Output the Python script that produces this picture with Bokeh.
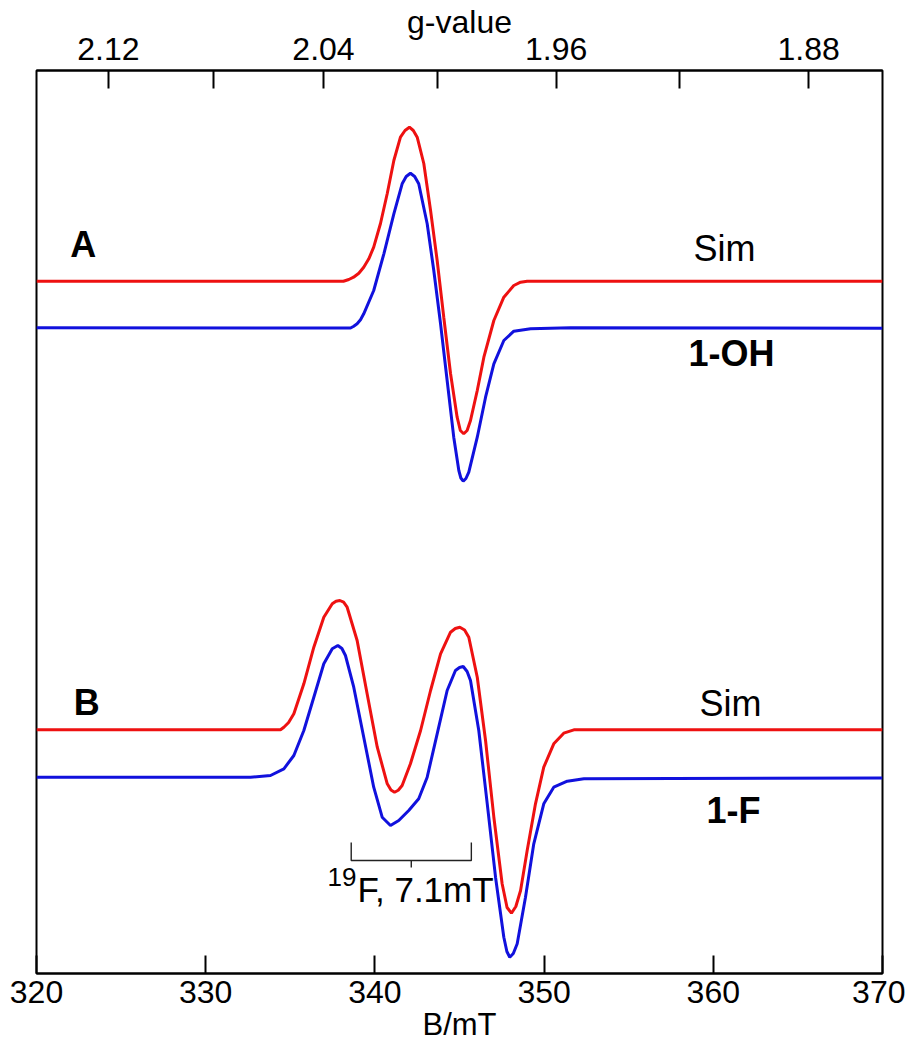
from bokeh.plotting import figure
from bokeh.models import Range1d, LinearAxis, FixedTicker, CustomJSTickFormatter
from bokeh.embed import file_html
from bokeh.resources import INLINE
from bokeh.core.properties import value

FONT = "Liberation Sans"

# ---- data ----
G_TIMES_B = 687.4          # g * B(mT) for this microwave frequency
g_major = [2.12, 2.04, 1.96, 1.88]
g_minor = [2.08, 2.00, 1.92]
b_ticks = [320, 330, 340, 350, 360, 370]

# spectrum A, simulation (red)
simA_B = [320.0, 338.14, 338.46, 338.74, 339.05, 339.34, 339.64, 339.93, 340.33, 340.73,
          341.12, 341.51, 341.78, 342.04, 342.27, 342.50, 342.89, 343.29, 343.68, 344.07,
          344.47, 344.86, 345.05, 345.25, 345.45, 345.65, 346.05, 346.44, 347.03, 347.62,
          348.21, 348.61, 349.00, 370.0]
simA_y = [692.3, 692.3, 694.0, 696.3, 700.3, 706.3, 714.7, 726.3, 750.0, 780.0,
          813.0, 836.3, 843.0, 846.3, 843.0, 836.3, 810.0, 763.0, 713.0, 656.3,
          600.0, 556.3, 543.0, 539.7, 543.0, 553.0, 583.0, 616.3, 653.0, 676.3,
          688.0, 691.3, 692.3, 692.3]

# spectrum A, experiment 1-OH (blue)
expA_B = [320.0, 338.56, 338.75, 338.95, 339.15, 339.34, 339.93, 340.53, 341.12, 341.61,
          341.85, 342.10, 342.35, 342.59, 343.09, 343.48, 343.88, 344.27, 344.66, 344.96,
          345.08, 345.22, 345.38, 345.55, 346.05, 346.54, 347.03, 347.62, 348.21, 349.20,
          351.56, 370.0]
expA_y = [645.7, 645.5, 647.3, 649.7, 653.7, 659.7, 683.0, 719.7, 759.7, 789.7,
          797.0, 800.3, 797.0, 789.7, 749.7, 703.0, 649.7, 593.0, 536.3, 503.0,
          495.5, 492.3, 495.0, 501.3, 536.3, 576.3, 609.7, 633.0, 642.3, 644.7,
          645.7, 645.2]

# spectrum B, simulation (red)
simB_B = [320.0, 334.42, 334.62, 334.90, 335.21, 335.80, 336.39, 336.98, 337.48, 337.70,
          337.93, 338.15, 338.36, 338.95, 339.54, 340.14, 340.73, 340.95, 341.16, 341.38,
          341.61, 342.10, 342.70, 343.29, 343.88, 344.47, 344.75, 345.02, 345.30, 345.55,
          346.05, 346.54, 347.03, 347.52, 347.81, 348.07, 348.33, 348.61, 349.00, 349.49,
          349.98, 350.57, 351.16, 351.76, 370.0]
simB_y = [243.7, 243.7, 246.3, 251.0, 259.7, 289.7, 326.3, 356.3, 369.7, 372.3,
          373.0, 371.3, 366.3, 333.0, 279.7, 226.3, 189.7, 183.5, 181.3, 183.3,
          188.0, 209.7, 243.0, 283.0, 319.7, 341.3, 345.0, 346.3, 343.5, 336.3,
          296.3, 233.0, 156.3, 89.7, 66.0, 60.3, 67.0, 83.0, 123.0, 169.7,
          206.3, 229.7, 240.3, 243.7, 243.7]

# spectrum B, experiment 1-F (blue)
expB_B = [320.0, 332.65, 333.83, 334.62, 335.21, 335.80, 336.39, 336.98, 337.48, 337.81,
          338.05, 338.26, 338.75, 339.34, 339.93, 340.43, 340.92, 341.41, 342.00, 342.59,
          343.09, 343.68, 344.27, 344.76, 345.00, 345.22, 345.45, 345.65, 346.14, 346.64,
          347.13, 347.62, 347.80, 347.97, 348.18, 348.41, 348.90, 349.39, 349.98, 350.57,
          351.37, 352.35, 370.0]
expB_y = [196.3, 196.3, 198.0, 204.7, 218.0, 243.0, 276.3, 309.7, 324.7, 328.0,
          325.0, 318.0, 286.3, 236.3, 186.3, 156.3, 148.0, 153.0, 163.0, 174.7,
          196.3, 239.7, 283.0, 303.0, 306.0, 307.0, 302.0, 293.0, 243.0, 169.7,
          96.3, 36.3, 22.0, 16.3, 20.0, 29.7, 76.3, 129.7, 169.7, 186.3,
          192.3, 194.7, 195.5]

# 19F hyperfine splitting bracket (mT)
hf_start = 338.6
hf_split = 7.1

RED = "#ee1111"
BLUE = "#1111dd"

p = figure(width=905, height=1048, x_range=Range1d(320, 370), y_range=Range1d(0, 903),
           output_backend="svg", toolbar_location=None, y_axis_location=None,
           x_axis_label="B/mT",
           min_border_left=36, min_border_right=23, min_border_top=70, min_border_bottom=75)
p.grid.visible = False
p.outline_line_color = "black"
p.outline_line_width = 2
p.background_fill_color = "white"
p.border_fill_color = "white"

# bottom axis
ax = p.xaxis[0]
ax.ticker = FixedTicker(ticks=b_ticks)
ax.major_tick_in = 18
ax.major_tick_out = 0
ax.minor_tick_in = 0
ax.minor_tick_out = 0
ax.major_tick_line_width = 2
ax.axis_line_width = 2
ax.major_label_text_font = FONT
ax.major_label_text_font_size = "32px"
ax.major_label_text_color = "black"
ax.major_label_standoff = 7
ax.axis_label_text_font = FONT
ax.axis_label_text_font_size = "31px"
ax.axis_label_text_font_style = "normal"
ax.axis_label_text_color = "black"
ax.axis_label_standoff = 1

# top axis: g-value
top = LinearAxis(axis_label="g-value")
top.ticker = FixedTicker(ticks=[G_TIMES_B / g for g in g_major],
                         minor_ticks=[G_TIMES_B / g for g in g_minor])
top.formatter = CustomJSTickFormatter(code="return (%s / tick).toFixed(2);" % G_TIMES_B)
top.major_tick_in = 18
top.major_tick_out = 0
top.minor_tick_in = 18
top.minor_tick_out = 0
top.major_tick_line_width = 2
top.minor_tick_line_width = 2
top.axis_line_width = 2
top.major_label_text_font = FONT
top.major_label_text_font_size = "32px"
top.major_label_text_color = "black"
top.major_label_standoff = 11
top.axis_label_text_font = FONT
top.axis_label_text_font_size = "32px"
top.axis_label_text_font_style = "normal"
top.axis_label_text_color = "black"
top.axis_label_standoff = -5
p.add_layout(top, "above")

# spectra
p.line(simA_B, simA_y, line_color=RED, line_width=3)
p.line(expA_B, expA_y, line_color=BLUE, line_width=3)
p.line(simB_B, simB_y, line_color=RED, line_width=3)
p.line(expB_B, expB_y, line_color=BLUE, line_width=3)

# bracket
hf_end = hf_start + hf_split
hf_mid = hf_start + hf_split / 2
p.multi_line(xs=[[hf_start, hf_start, hf_end, hf_end], [hf_mid, hf_mid]],
             ys=[[131, 113, 113, 131], [113, 106]],
             line_color="#222222", line_width=1.4)

def txt(x, y, s, size, bold=False, align="left"):
    p.text(x=[x], y=[y], text=[s], text_font=value(FONT), text_font_size=size,
           text_font_style="bold" if bold else "normal", text_color="black",
           text_align=align, text_baseline="alphabetic")

txt(322.0, 729, "A", "36px", bold=True)
txt(322.2, 271, "B", "36px", bold=True)
txt(358.83, 725, "Sim", "36px")
txt(358.53, 620, "1-OH", "36px", bold=True)
txt(359.19, 270, "Sim", "36px")
txt(359.60, 163, "1-F", "36px", bold=True)
txt(337.2, 97, "19", "26px")
txt(338.97, 84, "F, 7.1mT", "35px")

open("out.html", "w").write(file_html(p, INLINE))
